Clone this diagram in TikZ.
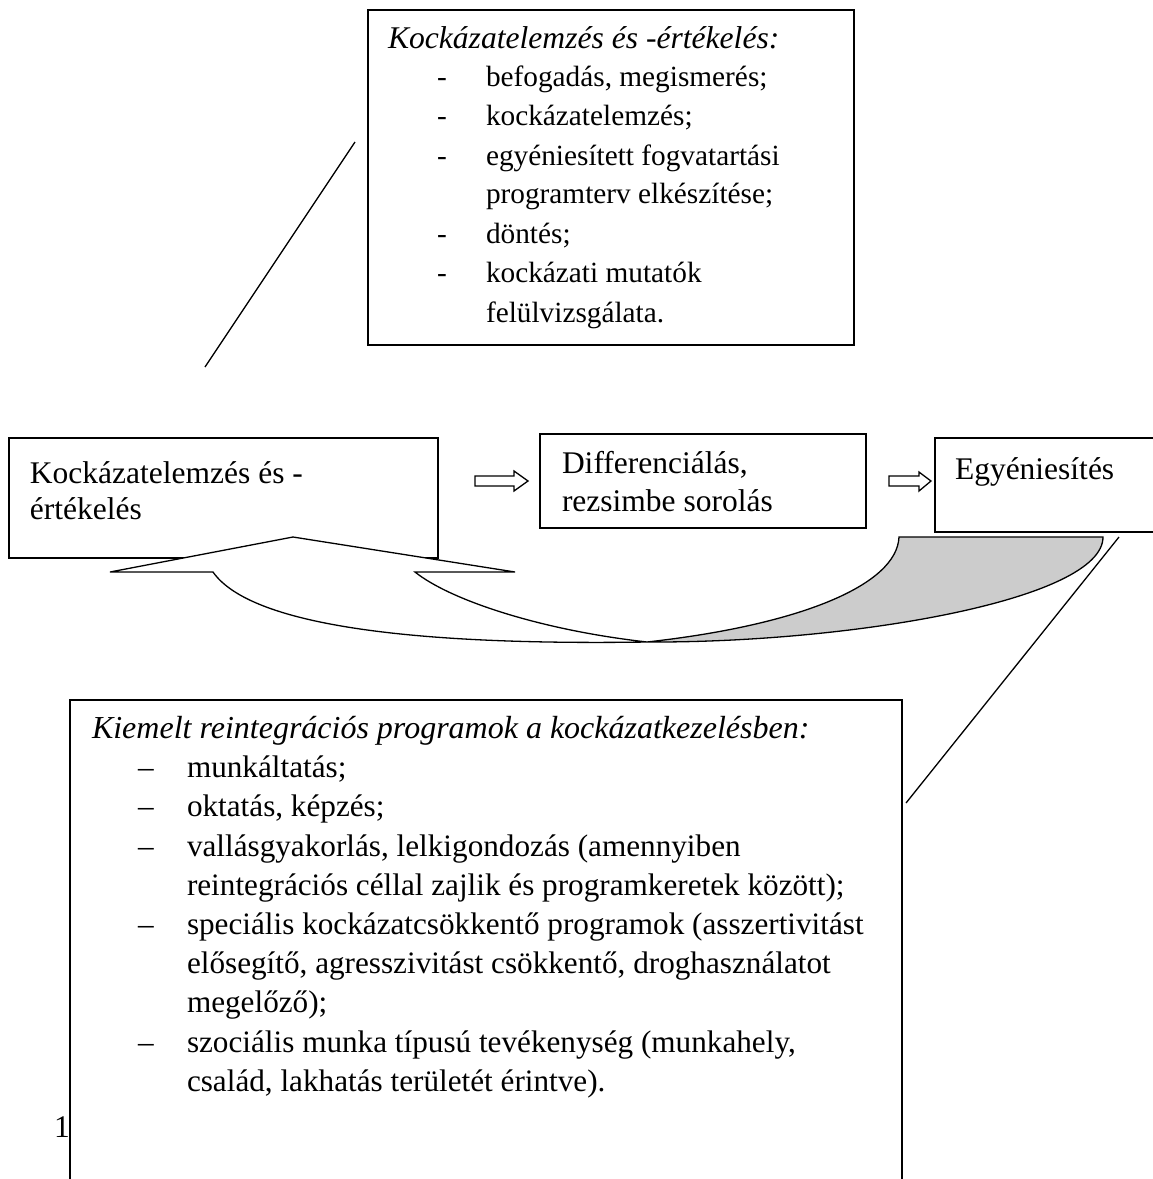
\documentclass[tikz,border=0pt]{standalone}
\usepackage{fontspec}
\setmainfont{Liberation Serif}
\definecolor{ribbongray}{RGB}{204,204,204}
\tikzset{
  boxframe/.style={draw=black, line width=1.8pt, fill=white, inner sep=0pt, outer sep=0pt, anchor=north west, rectangle},
  txt/.style={anchor=base west, inner sep=0pt, outer sep=0pt, font=\fontsize{31.5}{38}\selectfont},
  smalltxt/.style={anchor=base west, inner sep=0pt, outer sep=0pt, font=\fontsize{29.3}{36}\selectfont},
  bigtxt/.style={anchor=base west, inner sep=0pt, outer sep=0pt, font=\fontsize{31.2}{38}\selectfont},
  itxt/.style={anchor=base west, inner sep=0pt, outer sep=0pt, font=\fontsize{31.6}{38}\selectfont\itshape},
  bigitxt/.style={anchor=base west, inner sep=0pt, outer sep=0pt, font=\fontsize{32}{38}\selectfont\itshape},
  thinline/.style={line width=1.3pt},
  blockarrow/.style={draw=black, line width=1.3pt, fill=white, line join=miter},
  ribbonfront/.style={draw=black, line width=1.3pt, fill=white, line join=miter},
  ribbonback/.style={draw=black, line width=1.3pt, fill=ribbongray, line join=miter},
}
\begin{document}
\begin{tikzpicture}[x=1pt,y=-1pt]
\useasboundingbox (0,0) rectangle (1153,1179);
\clip (0,0) rectangle (1153,1179);

% ---------- top box ----------
\node[boxframe, minimum width=486, minimum height=335] (topbox) at (368,10) {};
\node[itxt] (th) at (388,48) {Kockázatelemzés és -értékelés:};
\node[smalltxt] (td1) at (437,86) {-};
\node[smalltxt] (tt1) at (486,86) {befogadás, megismerés;};
\node[smalltxt] (td2) at (437,125) {-};
\node[smalltxt] (tt2) at (486,125) {kockázatelemzés;};
\node[smalltxt] (td3) at (437,165) {-};
\node[smalltxt] (tt3) at (486,165) {egyéniesített fogvatartási};
\node[smalltxt] (tt3b) at (486,203) {programterv elkészítése;};
\node[smalltxt] (td4) at (437,243) {-};
\node[smalltxt] (tt4) at (486,243) {döntés;};
\node[smalltxt] (td5) at (437,282) {-};
\node[smalltxt] (tt5) at (486,282) {kockázati mutatók};
\node[smalltxt] (tt5b) at (486,322) {felülvizsgálata.};

% callout line at the left of the top box
\coordinate (tlA) at (355,142);
\coordinate (tlB) at (205,367);
\draw[thinline] (tlA) -- (tlB);

% ---------- middle row ----------
\node[boxframe, minimum width=429, minimum height=120] (box1) at (9,438) {};
\node[txt] (b1a) at (30,483) {Kockázatelemzés és -};
\node[txt] (b1b) at (30,519) {értékelés};

\node[boxframe, minimum width=326, minimum height=94] (box2) at (540,434) {};
\node[txt] (b2a) at (562,473) {Differenciálás,};
\node[txt] (b2b) at (562,511) {rezsimbe sorolás};

\node[boxframe, minimum width=240, minimum height=94] (box3) at (935,438) {};
\node[txt] (b3a) at (955,479) {Egyéniesítés};

% small hollow block arrows
\draw[blockarrow] (475,476) -- (514,476) -- (514,471) -- (528,481) -- (514,491) -- (514,486) -- (475,486) -- cycle;
\draw[blockarrow] (889,476) -- (919,476) -- (919,472) -- (931,481) -- (919,491) -- (919,486) -- (889,486) -- cycle;

% ---------- curved return arrow ----------
\draw[ribbonback] (899,537) -- (1103,537)
  .. controls (1103,600) and (850,643) .. (647,642)
  .. controls (800,625) and (897,585) .. (899,537) -- cycle;
\draw[ribbonfront] (415,572) -- (515,572) -- (293,537) -- (110,572) -- (213,572)
  .. controls (255,632) and (450,645) .. (647,642)
  .. controls (540,630) and (450,600) .. (415,572) -- cycle;

% callout line at the right
\coordinate (trA) at (1119,537);
\coordinate (trB) at (906,803);
\draw[thinline] (trA) -- (trB);

% ---------- bottom box ----------
\node[boxframe, minimum width=832, minimum height=520] (botbox) at (70,700) {};
\node[bigitxt] (bh) at (92,738) {Kiemelt reintegrációs programok a kockázatkezelésben:};
\node[bigtxt] (bd1) at (138,777) {–};
\node[bigtxt] (bt1) at (187,777) {munkáltatás;};
\node[bigtxt] (bd2) at (138,816) {–};
\node[bigtxt] (bt2) at (187,816) {oktatás, képzés;};
\node[bigtxt] (bd3) at (138,856) {–};
\node[bigtxt] (bt3) at (187,856) {vallásgyakorlás, lelkigondozás (amennyiben};
\node[bigtxt] (bt3b) at (187,895) {reintegrációs céllal zajlik és programkeretek között);};
\node[bigtxt] (bd4) at (138,934) {–};
\node[bigtxt] (bt4) at (187,934) {speciális kockázatcsökkentő programok (asszertivitást};
\node[bigtxt] (bt4b) at (187,973) {elősegítő, agresszivitást csökkentő, droghasználatot};
\node[bigtxt] (bt4c) at (187,1012) {megelőző);};
\node[bigtxt] (bd5) at (138,1052) {–};
\node[bigtxt] (bt5) at (187,1052) {szociális munka típusú tevékenység (munkahely,};
\node[bigtxt] (bt5b) at (187,1091) {család, lakhatás területét érintve).};

\node[txt] (pg) at (54,1137) {1};
\end{tikzpicture}
\end{document}
